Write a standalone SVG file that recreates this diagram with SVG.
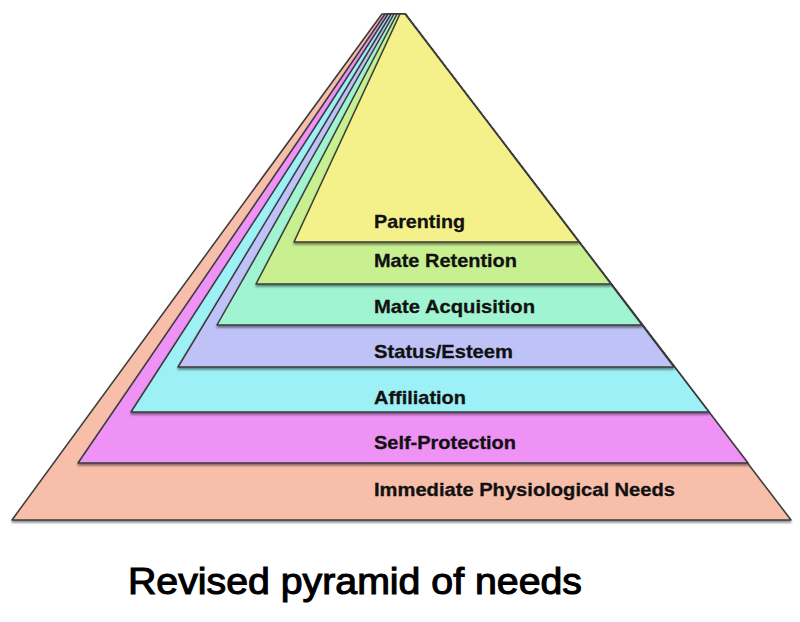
<svg xmlns="http://www.w3.org/2000/svg" width="800" height="622" viewBox="0 0 800 622">
<defs>
<filter id="sh" x="-5%" y="-5%" width="110%" height="115%">
<feDropShadow dx="0" dy="2" stdDeviation="1.2" flood-color="#000" flood-opacity="0.45"/>
</filter>
<style>
.layer{stroke:#3a3a3a;stroke-width:1.5;stroke-linejoin:round;filter:url(#sh)}
.lbl{font-family:"Liberation Sans",Arial,sans-serif;font-weight:bold;font-size:19px;fill:#111;stroke:#111;stroke-width:0.3}
.title{font-family:"Liberation Sans",Arial,sans-serif;font-size:37px;fill:#000;stroke:#000;stroke-width:1.1}
</style>
</defs>
<rect width="800" height="622" fill="#fff"/>
<g id="physiological">
<polygon class="layer" fill="#F7BEAA" points="382,14 405,14 791,520 12,520"/>
<text class="lbl" x="374" y="496" textLength="301" lengthAdjust="spacingAndGlyphs">Immediate Physiological Needs</text>
</g>
<g id="self-protection">
<polygon class="layer" fill="#EE92F6" points="385,14 405,14 748,463 78,463"/>
<text class="lbl" x="374" y="449" textLength="142" lengthAdjust="spacingAndGlyphs">Self-Protection</text>
</g>
<g id="affiliation">
<polygon class="layer" fill="#9CF0F6" points="388,14 405,14 709,412 131,412"/>
<text class="lbl" x="374" y="404" textLength="92" lengthAdjust="spacingAndGlyphs">Affiliation</text>
</g>
<g id="status-esteem">
<polygon class="layer" fill="#BEC2F6" points="391,14 405,14 674,367 178,367"/>
<text class="lbl" x="374" y="358" textLength="139" lengthAdjust="spacingAndGlyphs">Status/Esteem</text>
</g>
<g id="mate-acquisition">
<polygon class="layer" fill="#A0F4D2" points="394,14 405,14 642,325 217,325"/>
<text class="lbl" x="374" y="313" textLength="161" lengthAdjust="spacingAndGlyphs">Mate Acquisition</text>
</g>
<g id="mate-retention">
<polygon class="layer" fill="#C9F090" points="397,14 405,14 611,284 256,284"/>
<text class="lbl" x="374" y="267" textLength="143" lengthAdjust="spacingAndGlyphs">Mate Retention</text>
</g>
<g id="parenting">
<polygon class="layer" fill="#F5F18A" points="400,14 405,14 579,242 294,242"/>
<text class="lbl" x="374" y="228" textLength="91" lengthAdjust="spacingAndGlyphs">Parenting</text>
</g>
<g id="connectors"/>
<text class="title" x="128" y="594" textLength="454" lengthAdjust="spacingAndGlyphs">Revised pyramid of needs</text>
</svg>
